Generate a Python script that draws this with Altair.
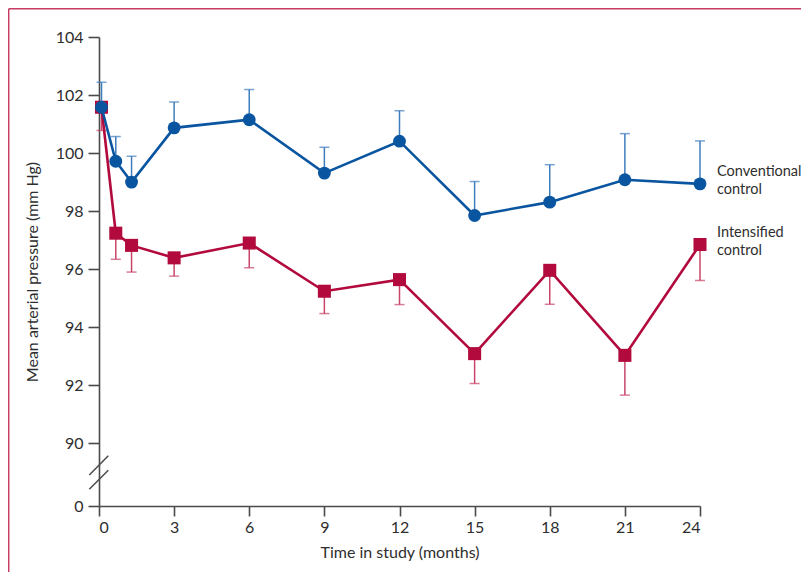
import altair as alt
import pandas as pd

months = [0.1, 0.67, 1.3, 3, 6, 9, 12, 15, 18, 21, 24]
conv_mean = [101.58, 99.72, 99.0, 100.87, 101.15, 99.31, 100.41, 97.85, 98.31, 99.08, 98.94]
conv_upper = [102.44, 100.57, 99.89, 101.76, 102.19, 100.2, 101.46, 99.02, 99.6, 100.67, 100.42]
int_mean = [101.58, 97.24, 96.82, 96.39, 96.9, 95.24, 95.64, 93.09, 95.96, 93.03, 96.85]
int_lower = [100.78, 96.34, 95.9, 95.76, 96.05, 94.47, 94.78, 92.06, 94.79, 91.66, 95.61]

x_ticks = [0, 3, 6, 9, 12, 15, 18, 21, 24]
y_ticks = [0, 90, 92, 94, 96, 98, 100, 102, 104]

BLUE = "#0a55a0"
BLUE_ERR = "#3f7cbc"
RED = "#b20a3c"
RED_ERR = "#c8456a"
FRAME = "#c83c64"
TXT = "#2e2e2e"
AX = "#4a4a4a"
FONT = "Lato"
FS = 16

W, H = 601, 469

df = pd.DataFrame({
    "month": months,
    "conv": conv_mean,
    "conv_hi": conv_upper,
    "int": int_mean,
    "int_lo": int_lower,
})

xs = alt.Scale(domain=[0, 24], nice=False, zero=False)
ys = alt.Scale(domain=[0, 90, 104], range=[H, 406.3, 0], nice=False, zero=False)

X = alt.X("month:Q", scale=xs, title="Time in study (months)",
          axis=alt.Axis(values=x_ticks, format="d", grid=False, domainColor=AX,
                        domainWidth=1.6, tickColor=AX, tickWidth=1.6, tickSize=10,
                        labelFont=FONT, labelFontSize=FS, labelColor=TXT, labelPadding=3,
                        titleFont=FONT, titleFontSize=FS, titleColor=TXT,
                        titleFontWeight="normal", titlePadding=9))

def Y(field, with_axis=False):
    if with_axis:
        ax = alt.Axis(values=y_ticks, format="d", grid=False, domainColor=AX,
                      domainWidth=1.6, tickColor=AX, tickWidth=1.6, tickSize=11,
                      labelFont=FONT, labelFontSize=FS, labelColor=TXT, labelPadding=5,
                      titleFont=FONT, titleFontSize=FS, titleColor=TXT,
                      titleFontWeight="normal", titlePadding=15)
        return alt.Y(field + ":Q", scale=ys, axis=ax, title="Mean arterial pressure (mm Hg)")
    return alt.Y(field + ":Q", scale=ys)

base = alt.Chart(df)

red_err = base.mark_rule(color=RED_ERR, strokeWidth=1.5).encode(x=X, y=Y("int", True), y2="int_lo:Q")
red_cap = base.mark_tick(color=RED_ERR, orient="horizontal", size=10, thickness=1.5).encode(x="month:Q", y=Y("int_lo"))
red_line = base.mark_line(color=RED, strokeWidth=2.6).encode(x="month:Q", y=Y("int"))
red_pts = base.mark_point(shape="square", filled=True, color=RED, size=170, opacity=1).encode(x="month:Q", y=Y("int"))

blue_err = base.mark_rule(color=BLUE_ERR, strokeWidth=1.5).encode(x="month:Q", y=Y("conv"), y2="conv_hi:Q")
blue_cap = base.mark_tick(color=BLUE_ERR, orient="horizontal", size=10, thickness=1.5).encode(x="month:Q", y=Y("conv_hi"))
blue_line = base.mark_line(color=BLUE, strokeWidth=2.6).encode(x="month:Q", y=Y("conv"))
blue_pts = base.mark_circle(color=BLUE, size=165, opacity=1).encode(x="month:Q", y=Y("conv"))

lab_df = pd.DataFrame({
    "month": [months[-1], months[-1]],
    "val": [conv_mean[-1], int_mean[-1]],
    "label": ["Conventional\ncontrol", "Intensified\ncontrol"],
})
labels = alt.Chart(lab_df).mark_text(align="left", baseline="middle", dx=17, dy=-12,
                                     font=FONT, fontSize=14.5, color=TXT, lineBreak="\n",
                                     lineHeight=18).encode(x="month:Q", y=Y("val"), text="label:N")

one = alt.Data(values=[{"k": 1}])
slash1 = alt.Chart(one).mark_rule(color=AX, strokeWidth=1.5).encode(
    x=alt.value(-9.7), x2=alt.value(9.3), y=alt.value(438), y2=alt.value(418.7))
slash2 = alt.Chart(one).mark_rule(color=AX, strokeWidth=1.5).encode(
    x=alt.value(-9.7), x2=alt.value(9.3), y=alt.value(452.3), y2=alt.value(433.3))
frame_top = alt.Chart(one).mark_rule(color=FRAME, strokeWidth=1.5).encode(
    x=alt.value(-90.3), x2=alt.value(710), y=alt.value(-28.3))
frame_left = alt.Chart(one).mark_rule(color=FRAME, strokeWidth=1.5).encode(
    x=alt.value(-90.3), y=alt.value(-28.3), y2=alt.value(540))

chart = alt.layer(
    red_err, red_cap, red_line, red_pts,
    blue_err, blue_cap, blue_line, blue_pts,
    labels, slash1, slash2, frame_top, frame_left,
).properties(
    width=W, height=H,
    background="white",
    autosize=alt.AutoSizeParams(type="none"),
    padding={"left": 91, "top": 29, "right": 101, "bottom": 66},
).configure_view(strokeWidth=0, strokeOpacity=0)

chart.save("out.html", embed_options={"renderer": "svg", "actions": False})
